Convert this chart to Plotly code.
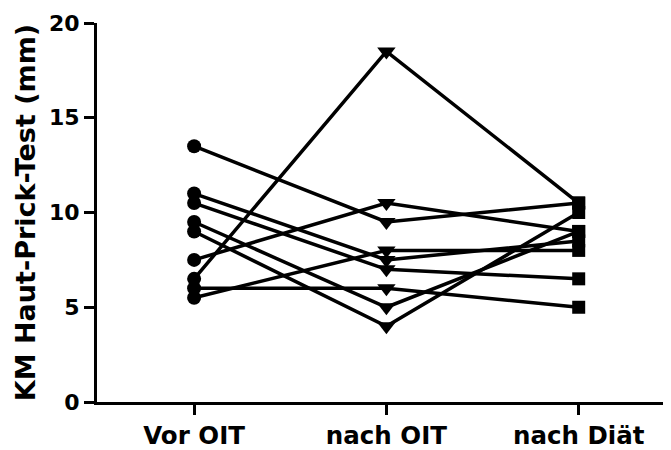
import plotly.graph_objects as go

categories = ["Vor OIT", "nach OIT", "nach Diät"]
vor_oit = [13.5, 11.0, 10.5, 9.5, 9.0, 7.5, 6.5, 6.0, 5.5]
nach_oit = [9.5, 7.5, 7.0, 5.0, 4.0, 10.5, 18.5, 6.0, 8.0]
nach_diaet = [10.5, 8.5, 6.5, 9.0, 10.0, 9.0, 10.5, 5.0, 8.0]
y_ticks = [0, 5, 10, 15, 20]
y_title = "KM Haut-Prick-Test (mm)"

FONT = "DejaVu Sans"
fig = go.Figure()
for a, b, c in zip(vor_oit, nach_oit, nach_diaet):
    fig.add_trace(go.Scatter(
        x=[0, 1, 2], y=[a, b, c], mode="lines+markers",
        line=dict(color="#000000", width=3.5),
        marker=dict(symbol=["circle", "triangle-down", "square"],
                    size=[14, 16, 13], color="#000000", opacity=1,
                    line=dict(width=0)),
        showlegend=False, cliponaxis=False,
    ))

fig.update_layout(
    width=663, height=442,
    margin=dict(l=89, r=0, t=15, b=42),
    plot_bgcolor="white", paper_bgcolor="white",
    font=dict(family=FONT, color="black"),
)
fig.update_xaxes(
    range=[-0.505, 2.48], tickmode="array", tickvals=[0, 1, 2], ticktext=categories,
    showline=True, linewidth=3, linecolor="black", ticks="outside", ticklen=10,
    tickwidth=3, tickcolor="black", showgrid=False, zeroline=False,
    tickfont=dict(family=FONT, size=24.5, weight="bold"),
)
fig.update_yaxes(
    range=[0, 20], tickmode="array", tickvals=y_ticks,
    showline=True, linewidth=3, linecolor="black", ticks="outside", ticklen=10,
    tickwidth=3, tickcolor="black", showgrid=False, zeroline=False,
    tickfont=dict(family=FONT, size=22, weight="bold"),
    title=dict(text=y_title, font=dict(family=FONT, size=27, weight="bold"), standoff=6),
)
fig.write_html("out.html")
